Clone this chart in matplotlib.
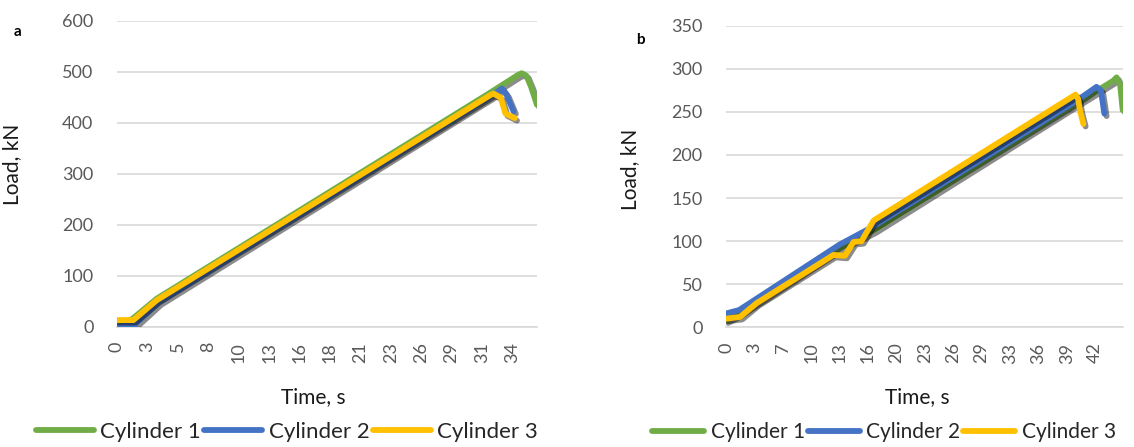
import matplotlib
matplotlib.use("Agg")
import matplotlib.pyplot as plt
import matplotlib.patheffects as pe

plt.rcParams["font.family"] = ["Lato", "DejaVu Sans"]

GREEN = "#70AD47"
BLUE = "#4472C4"
YELLOW = "#FFC000"
GRID = "#D9D9D9"
TICK = "#595959"

# ---- panel a ----
a_ticks = [0, 2.6, 5.2, 7.8, 10.4, 13.0, 15.6, 18.2, 20.8, 23.4, 26.0, 28.6, 31.2, 33.8]
a_labels = ["0", "3", "5", "8", "10", "13", "16", "18", "21", "23", "26", "29", "31", "34"]

a_t1 = [0, 1.3, 3.4, 31.7, 34.3, 34.6, 35.0, 35.4, 35.9]
a_y1 = [4, 15, 55, 456, 494, 497, 492, 470, 435]
a_t2 = [0, 1.5, 3.6, 32.0, 32.9, 33.3, 33.9]
a_y2 = [0, 4, 48, 452, 467, 455, 422]
a_t3 = [0, 1.4, 3.4, 31.9, 32.2, 32.8, 33.2, 34.0]
a_y3 = [13, 13, 52, 454, 457, 449, 418, 409]

# ---- panel b ----
b_ticks = [0, 3.25, 6.5, 9.75, 13.0, 16.25, 19.5, 22.75, 26.0, 29.25, 32.5, 35.75, 39.0, 42.25]
b_labels = ["0", "3", "7", "10", "13", "16", "20", "23", "26", "29", "33", "36", "39", "42"]

b_t1 = [0, 1.5, 13.0, 17.0, 40.0, 44.3, 44.7, 45.1, 45.4]
b_y1 = [8, 16, 92, 113, 259, 286, 290, 282, 252]
b_t2 = [0, 1.5, 13.0, 16.5, 40.0, 42.4, 42.9, 43.1, 43.3]
b_y2 = [16, 20, 96, 115, 262, 279, 275, 262, 248]
b_t3 = [0, 1.6, 3.5, 12.3, 13.6, 14.6, 15.5, 16.9, 40.0, 40.3, 40.5, 40.9]
b_y3 = [10, 12, 28, 84, 83, 99, 100, 124, 270, 265, 252, 236]

names = ["Cylinder 1", "Cylinder 2", "Cylinder 3"]
colors = [GREEN, BLUE, YELLOW]

fig = plt.figure(figsize=(11.34, 4.47), dpi=100)
ax_a = fig.add_axes([117 / 1134, 1 - 326.7 / 447, 420 / 1134, 306 / 447])
ax_b = fig.add_axes([726 / 1134, 1 - 327.3 / 447, 396.7 / 1134, 301.6 / 447])

shadow = [pe.SimpleLineShadow(offset=(1.6, -1.8), shadow_color="black", alpha=0.45), pe.Normal()]


def draw_panel(ax, series, ticks, labels, xmax, ymax, ystep, ylab_xy, xlab_xy):
    for (t, y), c, n in zip(series, colors, names):
        ax.plot(t, y, color=c, lw=4.2, solid_capstyle="round", solid_joinstyle="round",
                label=n, path_effects=shadow, zorder=3)
    ax.set_xlim(0, xmax)
    ax.set_ylim(0, ymax)
    ax.set_yticks(range(0, ymax + 1, ystep))
    ax.set_xticks(ticks)
    ax.set_xticklabels(labels, rotation=90)
    ax.grid(axis="y", color=GRID, lw=1.2)
    ax.set_axisbelow(True)
    for s in ["top", "right", "left"]:
        ax.spines[s].set_visible(False)
    ax.spines["bottom"].set_color(GRID)
    ax.spines["bottom"].set_linewidth(1.2)
    ax.tick_params(axis="both", length=0, labelsize=13, colors=TICK)
    ax.tick_params(axis="y", pad=17)
    ax.tick_params(axis="x", pad=11)
    ax.set_ylabel("Load, kN", fontsize=15, color="#1a1a1a")
    ax.yaxis.set_label_coords(*ylab_xy)
    ax.set_xlabel("Time, s", fontsize=15, color="#1a1a1a", va="center")
    ax.xaxis.set_label_coords(*xlab_xy)


draw_panel(ax_a, [(a_t1, a_y1), (a_t2, a_y2), (a_t3, a_y3)], a_ticks, a_labels,
           35.9, 600, 100, (-0.226, 0.53), (0.467, -0.229))
draw_panel(ax_b, [(b_t1, b_y1), (b_t2, b_y2), (b_t3, b_y3)], b_ticks, b_labels,
           45.4, 350, 50, (-0.217, 0.525), (0.481, -0.230))

fig.text(14 / 1134, 1 - 32 / 447, "a", fontsize=11, fontweight="bold", va="center")
fig.text(636 / 1134, 1 - 40 / 447, "b", fontsize=11, fontweight="bold", va="center")

for ax, cx, fs, hl in [(ax_a, 287 / 1134, 16, 2.6), (ax_b, 884 / 1134, 15, 2.5)]:
    h, l = ax.get_legend_handles_labels()
    leg = fig.legend(h, l, loc="center", bbox_to_anchor=(cx, 15 / 447), ncol=3, frameon=False,
                     fontsize=fs, handlelength=hl, handletextpad=0.3, columnspacing=0.15,
                     labelcolor="#262626")
    for line in leg.get_lines():
        line.set_path_effects([])
        line.set_linewidth(4.2)

fig.savefig("out.png", dpi=100)
